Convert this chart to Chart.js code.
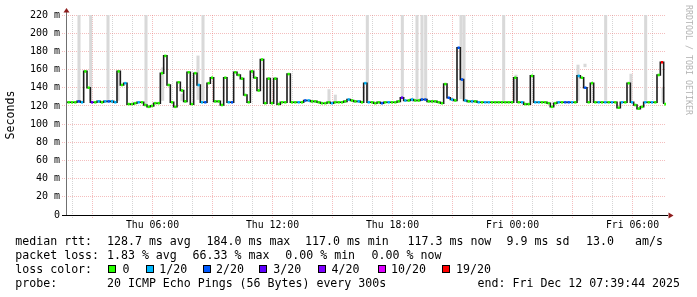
<!DOCTYPE html>
<html>
<head>
<meta charset="utf-8">
<script src="https://cdn.jsdelivr.net/npm/chart.js@4.4.3/dist/chart.umd.min.js"></script>
<style>
  html, body { margin: 0; padding: 0; background: #fff; }
  #wrap { position: relative; width: 697px; height: 297px; overflow: hidden; font-family: "DejaVu Sans Mono", monospace; color: #000; }
  #chart { position: absolute; left: 0; top: 0; }
  .t { position: absolute; font-size: 11.6px; line-height: 14px; white-space: pre; }
  .box { position: absolute; width: 8px; height: 8px; box-sizing: border-box; border: 1px solid #000; }
  #credit { position: absolute; left: 693px; top: 5px; font-size: 8.3px; line-height: 8px; color: #b4b4b4; white-space: pre; transform-origin: 0 0; transform: rotate(90deg); }
</style>
</head>
<body>
<div id="wrap">
  <canvas id="chart" width="697" height="297"></canvas>
  <div id="credit">RRDTOOL / TOBI OETIKER</div>
  <div id="legend"></div>
</div>
<script>
// axis runs Thu 01:40 .. Fri 07:40, values in hours since Thu 00:00
const axisStartHour = 1 + 40.5 / 60;
const axisEndHour = axisStartHour + 30;
const firstSampleHour = 1 + 43.5 / 60;
const sampleStepHours = 10 / 60;

// median rtt per sample (ms)
const medianMs = [
  124, 124, 124, 125, 124, 158, 140, 124, 124, 125,
  124, 125, 125, 125, 124, 158, 143, 145, 122, 122,
  123, 124, 124, 121, 119, 120, 123, 123, 156, 175,
  143, 124, 119, 146, 137, 125, 157, 122, 156, 143,
  124, 124, 145, 151, 125, 125, 121, 151, 124, 124,
  157, 154, 150, 132, 124, 158, 151, 137, 171, 123,
  150, 123, 150, 122, 124, 124, 155, 124, 124, 124,
  124, 126, 126, 125, 125, 124, 123, 123, 124, 123,
  124, 124, 124, 125, 127, 126, 125, 125, 124, 145,
  124, 124, 123, 124, 123, 124, 124, 124, 124, 125,
  129, 126, 126, 127, 126, 126, 127, 127, 125, 125,
  125, 124, 123, 144, 129, 127, 126, 184, 149, 126,
  125, 125, 125, 124, 124, 124, 124, 124, 124, 124,
  124, 124, 124, 124, 151, 124, 124, 122, 122, 153,
  124, 124, 124, 124, 123, 119, 123, 124, 124, 124,
  124, 124, 124, 153, 151, 140, 124, 145, 124, 124,
  124, 124, 124, 124, 124, 118, 124, 124, 145, 124,
  121, 117, 119, 124, 124, 124, 124, 154, 168, 122,
];

// lost pings out of 20 per sample
const lossCount = [
  0, 0, 0, 2, 1, 0, 0, 3, 0, 1,
  0, 1, 2, 1, 1, 0, 0, 1, 0, 0,
  0, 1, 0, 0, 0, 0, 0, 0, 0, 0,
  0, 0, 0, 0, 0, 0, 0, 0, 0, 1,
  1, 2, 0, 0, 0, 0, 0, 0, 1, 2,
  0, 0, 0, 0, 0, 0, 0, 0, 0, 0,
  0, 0, 0, 0, 0, 0, 0, 0, 0, 1,
  0, 2, 1, 0, 0, 0, 0, 0, 0, 1,
  0, 0, 0, 0, 1, 0, 0, 1, 0, 1,
  1, 0, 0, 0, 2, 0, 1, 0, 0, 0,
  3, 1, 0, 1, 0, 0, 2, 2, 0, 0,
  0, 0, 0, 0, 2, 1, 0, 2, 2, 1,
  0, 1, 0, 1, 0, 1, 1, 0, 0, 0,
  0, 0, 0, 0, 0, 0, 1, 0, 0, 0,
  1, 1, 0, 0, 0, 0, 0, 1, 0, 2,
  2, 1, 0, 1, 0, 2, 0, 0, 0, 1,
  0, 1, 0, 1, 0, 0, 1, 0, 0, 1,
  0, 0, 0, 1, 0, 1, 0, 0, 19, 0,
];

// smoke: position in samples, low and high rtt (ms)
const smokeAt = [3.6, 7.1, 12.3, 15.3, 23.7, 28.7, 34.5, 39.3, 40.8, 78.6, 80.5, 90.1, 100.6, 105.0, 106.5, 107.6, 118.2, 119.1, 131.0, 134.7, 153.3, 155.4, 161.6, 169.2, 173.6, 178.8];
const smokeLow = [126, 126, 127, 126, 122, 126, 126, 127, 126, 124, 125, 126, 130, 127, 127, 127, 128, 127, 126, 126, 126, 163, 126, 126, 126, 124];
const smokeHigh = [220, 220, 220, 156, 220, 162, 133, 175, 220, 138, 132, 220, 220, 220, 220, 220, 220, 220, 220, 154, 165, 166, 220, 155, 220, 140];

const lossLevels = [0, 1, 2, 3, 4, 10, 19];
const lossColors = ["#26ff00", "#00b8ff", "#0059ff", "#5e00ff", "#7e00ff", "#dd00ff", "#ff0000"];

const xLabelHours = [6, 12, 18, 24, 30];
const xLabelTexts = ["Thu 06:00", "Thu 12:00", "Thu 18:00", "Fri 00:00", "Fri 06:00"];

const legendRows = [
  { top: 234, parts: [[16, "median rtt:"], [107.7, "128.7 ms avg"], [207.3, "184.0 ms max"], [305.7, "117.0 ms min"], [408.3, "117.3 ms now"], [507.3, "9.9 ms sd"], [586.7, "13.0"], [635.7, "am/s"]] },
  { top: 248, parts: [[16, "packet loss:"], [107.7, "1.83 % avg"], [193.3, "66.33 % max"], [286, "0.00 % min"], [372.3, "0.00 % now"]] },
  { top: 262.3, parts: [[16, "loss color:"]] },
  { top: 276.3, parts: [[16, "probe:"], [107.7, "20 ICMP Echo Pings (56 Bytes) every 300s"], [478.3, "end: Fri Dec 12 07:39:44 2025"]] },
];
const lossBoxX = [108.3, 145.7, 202.7, 259.3, 318.3, 378.3, 442.3];
const lossLabelX = [123.3, 160, 216.7, 274, 332.3, 391.7, 456.7];

const monoFont = "'DejaVu Sans Mono', monospace";
const majorGrid = "rgba(230, 110, 110, 0.45)";
const minorGrid = "rgba(150, 150, 150, 0.4)";

function colorForLoss(count) {
  let color = lossColors[0];
  lossLevels.forEach((level, idx) => {
    if (count >= level) color = lossColors[idx];
  });
  return color;
}

function lossLabel(level) {
  return level === 0 ? "0" : `${level}/20`;
}

function buildLegend() {
  const legend = document.getElementById("legend");
  legendRows.forEach((row) => {
    row.parts.forEach(([x, text]) => {
      const span = document.createElement("div");
      span.className = "t";
      span.style.left = `${x - 0.7}px`;
      span.style.top = `${row.top}px`;
      span.textContent = text;
      legend.appendChild(span);
    });
  });
  lossLevels.forEach((level, idx) => {
    const box = document.createElement("div");
    box.className = "box";
    box.style.left = `${lossBoxX[idx]}px`;
    box.style.top = "265px";
    box.style.background = lossColors[idx];
    legend.appendChild(box);
    const label = document.createElement("div");
    label.className = "t";
    label.style.left = `${lossLabelX[idx] - 0.7}px`;
    label.style.top = "262.3px";
    label.textContent = lossLabel(level);
    legend.appendChild(label);
  });
}

const sampleHours = medianMs.map((_, i) => firstSampleHour + i * sampleStepHours);
const medianPoints = medianMs.map((v, i) => ({ x: sampleHours[i], y: v }));
const lossPoints = medianMs.map((v, i) => ({ x: sampleHours[i] + sampleStepHours / 2, y: v }));
const smokeBars = smokeAt.map((pos, i) => ({
  x: firstSampleHour + pos * sampleStepHours,
  y: [smokeLow[i], smokeHigh[i]],
}));

const axisArrows = {
  id: "axisArrows",
  afterDatasetsDraw(chart) {
    const { ctx, chartArea: area } = chart;
    ctx.save();
    ctx.lineWidth = 1;
    ctx.strokeStyle = "#707070";
    ctx.beginPath();
    ctx.moveTo(area.left + 0.5, area.bottom + 1);
    ctx.lineTo(area.left + 0.5, area.top - 3);
    ctx.stroke();
    ctx.strokeStyle = "#000";
    ctx.beginPath();
    ctx.moveTo(area.left - 4, area.bottom + 0.5);
    ctx.lineTo(area.right + 2, area.bottom + 0.5);
    ctx.stroke();
    ctx.fillStyle = "#8e1c1c";
    ctx.beginPath();
    ctx.moveTo(area.left + 0.5, area.top - 7);
    ctx.lineTo(area.left - 2.5, area.top - 2.5);
    ctx.lineTo(area.left + 3.5, area.top - 2.5);
    ctx.closePath();
    ctx.fill();
    ctx.beginPath();
    ctx.moveTo(area.right + 7.5, area.bottom + 0.5);
    ctx.lineTo(area.right + 2.5, area.bottom - 2.5);
    ctx.lineTo(area.right + 2.5, area.bottom + 3.5);
    ctx.closePath();
    ctx.fill();
    ctx.restore();
  },
};

function buildChart() {
  const canvas = document.getElementById("chart");
  return new Chart(canvas, {
    type: "line",
    data: {
      datasets: [
        {
          type: "line",
          label: "loss color",
          data: lossPoints,
          showLine: false,
          pointStyle: "line",
          pointRadius: 1.1,
          pointHoverRadius: 1.1,
          pointBorderWidth: 2.6,
          pointBorderColor: lossCount.map(colorForLoss),
          order: 1,
        },
        {
          type: "line",
          label: "median rtt",
          data: medianPoints,
          stepped: "before",
          borderColor: "#1c1c1c",
          borderWidth: 1.6,
          pointRadius: 0,
          fill: false,
          order: 2,
        },
        {
          type: "bar",
          label: "smoke",
          data: smokeBars,
          backgroundColor: "#d9d9d9",
          borderWidth: 0,
          barThickness: 2.4,
          grouped: false,
          order: 3,
        },
      ],
    },
    options: {
      responsive: false,
      animation: false,
      events: [],
      layout: { padding: { top: 15, right: 31, left: 0, bottom: 0 } },
      plugins: {
        legend: { display: false },
        tooltip: { enabled: false },
      },
      scales: {
        x: {
          type: "linear",
          min: axisStartHour,
          max: axisEndHour,
          offset: false,
          afterFit(scale) {
            scale.height = 82;
          },
          afterBuildTicks(scale) {
            const ticks = [];
            for (let h = 2; h <= 31; h += 1) ticks.push({ value: h });
            scale.ticks = ticks;
          },
          border: { display: false, dash: [1, 1] },
          grid: {
            offset: false,
            lineWidth: 1,
            tickLength: 3,
            tickBorderDash: [1, 1],
            color(ctx) {
              return ctx.tick && ctx.tick.value % 3 === 0 ? majorGrid : minorGrid;
            },
            tickColor(ctx) {
              return ctx.tick && ctx.tick.value % 3 === 0 ? majorGrid : minorGrid;
            },
          },
          ticks: {
            autoSkip: false,
            maxRotation: 0,
            padding: 2,
            color: "#000",
            font: { family: monoFont, size: 9.8 },
            callback(value) {
              const idx = xLabelHours.indexOf(value);
              return idx >= 0 ? xLabelTexts[idx] : "";
            },
          },
        },
        y: {
          type: "linear",
          min: 0,
          max: 220,
          afterFit(scale) {
            scale.width = 66;
          },
          border: { display: false, dash: [1, 1] },
          grid: {
            lineWidth: 1,
            tickLength: 4,
            tickBorderDash: [1, 1],
            color(ctx) {
              return ctx.tick && ctx.tick.value % 20 === 0 ? majorGrid : minorGrid;
            },
            tickColor(ctx) {
              return ctx.tick && ctx.tick.value % 20 === 0 ? majorGrid : minorGrid;
            },
          },
          ticks: {
            stepSize: 10,
            padding: 2,
            color: "#000",
            font: { family: monoFont, size: 10 },
            callback(value) {
              if (value % 20 !== 0) return "";
              return value === 0 ? "0" : `${value} m`;
            },
          },
          title: {
            display: true,
            text: "Seconds",
            color: "#000",
            font: { family: monoFont, size: 11.6 },
            padding: { top: 4, bottom: 0 },
          },
        },
      },
    },
    plugins: [axisArrows],
  });
}

buildLegend();
buildChart();
</script>
</body>
</html>
